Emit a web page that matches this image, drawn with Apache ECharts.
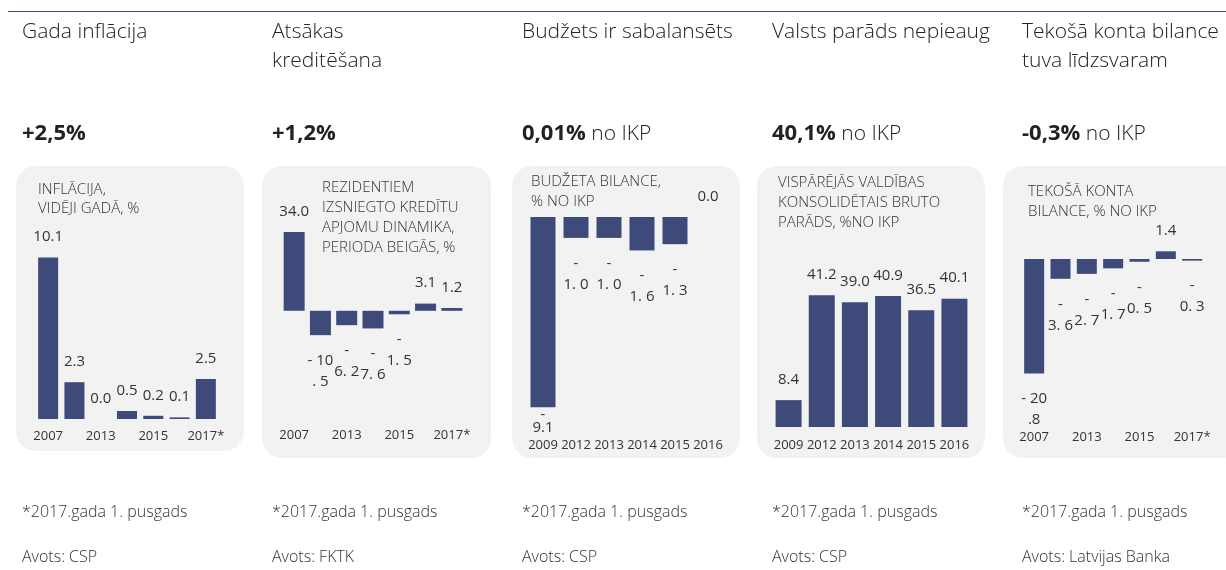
<!DOCTYPE html>
<html>
<head>
<meta charset="utf-8">
<script src="https://cdn.jsdelivr.net/npm/echarts@6/dist/echarts.min.js"></script>
<style>
  html, body { margin: 0; padding: 0; background: #fff; }
  #chart { width: 1226px; height: 570px; }
</style>
</head>
<body>
<div id="chart"></div>
<script>
// --- data ---
const years7 = ['2007', '2012', '2013', '2014', '2015', '2016', '2017*']
const years6 = ['2009', '2012', '2013', '2014', '2015', '2016']

const inflation = [10.1, 2.3, 0.0, 0.5, 0.2, 0.1, 2.5]
const inflationLabels = ['10.1', '2.3', '0.0', '0.5', '0.2', '0.1', '2.5']

const credit = [34.0, -10.5, -6.2, -7.6, -1.5, 3.1, 1.2]
const creditLabels = ['34.0', '- 10\n. 5', '-\n6. 2', '-\n7. 6', '-\n1. 5', '3.1', '1.2']

const budget = [-9.1, -1.0, -1.0, -1.6, -1.3, 0.0]
const budgetLabels = ['-\n9.1', '-\n1. 0', '-\n1. 0', '-\n1. 6', '-\n1. 3', '0.0']

const debt = [8.4, 41.2, 39.0, 40.9, 36.5, 40.1]
const debtLabels = ['8.4', '41.2', '39.0', '40.9', '36.5', '40.1']

const account = [-20.8, -3.6, -2.7, -1.7, -0.5, 1.4, -0.3]
const accountLabels = ['- 20\n.8', '-\n3. 6', '-\n2. 7', '-\n1. 7', '-\n0. 5', '1.4', '-\n0. 3']

const headings = ['Gada inflācija', 'Atsākas\nkreditēšana', 'Budžets ir sabalansēts', 'Valsts parāds nepieaug', 'Tekošā konta bilance\ntuva līdzsvaram']
const bigValues = ['+2,5%', '+1,2%', '0,01%', '40,1%', '-0,3%']
const bigSuffix = ['', '', ' no IKP', ' no IKP', ' no IKP']
const boxTitles = [
  'INFLĀCIJA,\nVIDĒJI GADĀ, %',
  'REZIDENTIEM\nIZSNIEGTO KREDĪTU\nAPJOMU DINAMIKA,\nPERIODA BEIGĀS, %',
  'BUDŽETA BILANCE,\n% NO IKP',
  'VISPĀRĒJĀS VALDĪBAS\nKONSOLIDĒTAIS BRUTO\nPARĀDS, %NO IKP',
  'TEKOŠĀ KONTA\nBILANCE, % NO IKP'
]
const notes = ['*2017.gada 1. pusgads', '*2017.gada 1. pusgads', '*2017.gada 1. pusgads', '*2017.gada 1. pusgads', '*2017.gada 1. pusgads']
const sources = ['Avots: CSP', 'Avots: FKTK', 'Avots: CSP', 'Avots: CSP', 'Avots: Latvijas Banka']

// --- layout ---
const FONT = '"Open Sans", "Noto Sans", sans-serif'
const BAR = '#3d4a7a'
const TXT = '#333'
const colX = [22, 272, 522, 772, 1022]
const boxes = [
  [16, 166, 228, 285], [262, 166, 229, 292], [512, 166, 228, 292], [757, 166, 228, 292], [1003, 166, 240, 292]
]
const boxTitlePos = [[38, 180], [322, 178], [531, 172], [778, 173], [1028, 182]]
const boxTitleLH = [19, 20, 20, 20, 20]

const grids = [
  { left: 35, top: 227, width: 184, height: 192 },
  { left: 281, top: 218, width: 184, height: 139.2 },
  { left: 526.5, top: 196.1, width: 198, height: 229.9 },
  { left: 772, top: 267, width: 199, height: 160 },
  { left: 1021, top: 231.5, width: 184.3, height: 165 }
]
const yRange = [[0, 12], [-20, 40], [-10, 1], [0, 50], [-25, 5]]
const labelMargin = [11, 72, 13, 12, 34]
const labelInterval = [1, 1, 0, 0, 1]
const barWidths = [20, 21, 25, 26, 20]

const panels = [
  [years7, inflation, inflationLabels],
  [years7, credit, creditLabels],
  [years6, budget, budgetLabels],
  [years6, debt, debtLabels],
  [years7, account, accountLabels]
]

const chart = echarts.init(document.getElementById('chart'))

const graphic = [
  { type: 'line', shape: { x1: 8, y1: 11.5, x2: 1226, y2: 11.5 }, style: { stroke: '#3f4b70', lineWidth: 1.2 } }
]
boxes.forEach(b => {
  graphic.push({
    type: 'rect', z: 0,
    shape: { x: b[0], y: b[1], width: b[2], height: b[3], r: 20 },
    style: { fill: '#f2f2f2' }
  })
})

const titles = []
colX.forEach((x, i) => {
  titles.push({
    text: headings[i], left: x, top: 18, padding: 0,
    textStyle: { fontFamily: FONT, fontSize: 21, fontWeight: 300, color: '#222', lineHeight: 29 }
  })
  titles.push({
    text: '{b|' + bigValues[i] + '}{n|' + bigSuffix[i] + '}', left: x, top: 120, padding: 0,
    textStyle: {
      rich: {
        b: { fontFamily: FONT, fontSize: 22, fontWeight: 'bold', color: '#222', lineHeight: 28 },
        n: { fontFamily: FONT, fontSize: 21, fontWeight: 300, color: '#222', lineHeight: 28 }
      }
    }
  })
  titles.push({
    text: boxTitles[i], left: boxTitlePos[i][0], top: boxTitlePos[i][1], padding: 0,
    textStyle: { fontFamily: FONT, fontSize: 15, fontWeight: 300, color: TXT, lineHeight: boxTitleLH[i] }
  })
  titles.push({
    text: notes[i], left: x, top: 502, padding: 0,
    textStyle: { fontFamily: FONT, fontSize: 16, fontWeight: 300, color: TXT, lineHeight: 20 }
  })
  titles.push({
    text: sources[i], left: x, top: 547, padding: 0,
    textStyle: { fontFamily: FONT, fontSize: 16, fontWeight: 300, color: TXT, lineHeight: 20 }
  })
})

const xAxis = [], yAxis = [], series = []
panels.forEach(([cats, values, labels], i) => {
  xAxis.push({
    type: 'category', gridIndex: i, data: cats, position: 'bottom',
    axisLine: { show: false, onZero: false }, axisTick: { show: false },
    axisLabel: { interval: labelInterval[i], margin: labelMargin[i], color: TXT, fontFamily: FONT, fontSize: 13 }
  })
  yAxis.push({
    type: 'value', gridIndex: i, min: yRange[i][0], max: yRange[i][1], show: false, splitLine: { show: false }
  })
  series.push({
    type: 'bar', xAxisIndex: i, yAxisIndex: i, barWidth: barWidths[i],
    itemStyle: { color: BAR },
    label: {
      show: true, color: TXT, fontFamily: FONT, fontSize: 15, lineHeight: 21,
      formatter: p => labels[p.dataIndex]
    },
    data: values.map(v => ({
      value: v,
      label: { position: v < 0 ? 'bottom' : 'top', distance: v < 0 ? 15 : 10 }
    }))
  })
})
// the -9.1 label sits tight under its bar in the original
series[2].data[0].label = { position: 'bottom', distance: 1, lineHeight: 13 }

chart.setOption({
  animation: false,
  backgroundColor: '#fff',
  title: titles,
  graphic: graphic,
  grid: grids.map(g => Object.assign({ containLabel: false, outerBoundsMode: 'none' }, g)),
  xAxis: xAxis,
  yAxis: yAxis,
  series: series
})
</script>
</body>
</html>
